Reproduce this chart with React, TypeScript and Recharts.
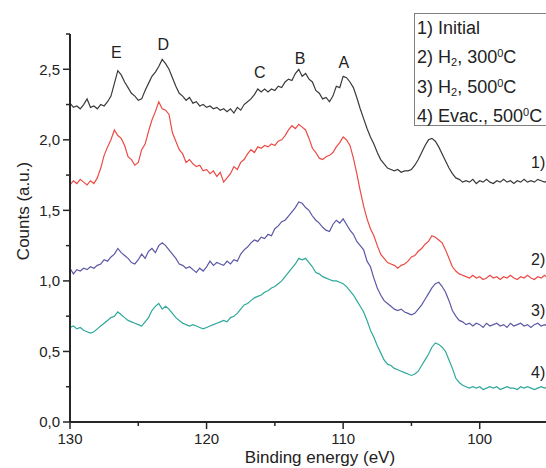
import React from 'react';
import { LineChart, Line, XAxis, YAxis, ReferenceDot } from 'recharts';

const energies = [
  130, 129.75, 129.5, 129.25, 129, 128.75, 128.5, 128.25, 128, 127.75, 127.5, 127.25,
  127, 126.75, 126.5, 126.25, 126, 125.75, 125.5, 125.25, 125, 124.75, 124.5, 124.25,
  124, 123.75, 123.5, 123.25, 123, 122.75, 122.5, 122.25, 122, 121.75, 121.5, 121.25,
  121, 120.75, 120.5, 120.25, 120, 119.75, 119.5, 119.25, 119, 118.75, 118.5, 118.25,
  118, 117.75, 117.5, 117.25, 117, 116.75, 116.5, 116.25, 116, 115.75, 115.5, 115.25,
  115, 114.75, 114.5, 114.25, 114, 113.75, 113.5, 113.25, 113, 112.75, 112.5, 112.25,
  112, 111.75, 111.5, 111.25, 111, 110.75, 110.5, 110.25, 110, 109.75, 109.5, 109.25,
  109, 108.75, 108.5, 108.25, 108, 107.75, 107.5, 107.25, 107, 106.75, 106.5, 106.25,
  106, 105.75, 105.5, 105.25, 105, 104.75, 104.5, 104.25, 104, 103.75, 103.5, 103.25,
  103, 102.75, 102.5, 102.25, 102, 101.75, 101.5, 101.25, 101, 100.75, 100.5, 100.25,
  100, 99.75, 99.5, 99.25, 99, 98.75, 98.5, 98.25, 98, 97.75, 97.5, 97.25,
  97, 96.75, 96.5, 96.25, 96, 95.75, 95.5, 95.25, 95,
];

const initial = [
  2.26, 2.23, 2.24, 2.22, 2.25, 2.29, 2.23, 2.24, 2.22, 2.25, 2.24, 2.27,
  2.31, 2.40, 2.49, 2.46, 2.41, 2.37, 2.33, 2.31, 2.28, 2.29, 2.35, 2.40,
  2.45, 2.48, 2.52, 2.57, 2.54, 2.50, 2.44, 2.38, 2.33, 2.31, 2.28, 2.30,
  2.26, 2.27, 2.24, 2.25, 2.23, 2.24, 2.22, 2.23, 2.21, 2.22, 2.20, 2.22,
  2.19, 2.23, 2.21, 2.25, 2.27, 2.29, 2.32, 2.36, 2.34, 2.36, 2.34, 2.36,
  2.35, 2.38, 2.37, 2.41, 2.43, 2.42, 2.47, 2.50, 2.45, 2.47, 2.43, 2.41,
  2.35, 2.33, 2.29, 2.30, 2.27, 2.31, 2.38, 2.37, 2.45, 2.44, 2.41, 2.37,
  2.30, 2.22, 2.15, 2.08, 2.02, 1.97, 1.91, 1.86, 1.83, 1.80, 1.79, 1.78,
  1.79, 1.77, 1.78, 1.78, 1.79, 1.82, 1.86, 1.91, 1.96, 2.00, 2.01, 1.99,
  1.95, 1.90, 1.85, 1.80, 1.76, 1.73, 1.72, 1.70, 1.71, 1.70, 1.72, 1.69,
  1.71, 1.70, 1.72, 1.70, 1.69, 1.71, 1.70, 1.72, 1.70, 1.71, 1.69, 1.71,
  1.70, 1.72, 1.70, 1.71, 1.70, 1.72, 1.71, 1.70, 1.71,
];

const h2300 = [
  1.68, 1.71, 1.69, 1.72, 1.70, 1.68, 1.71, 1.69, 1.73, 1.80, 1.89, 1.95,
  2.00, 2.07, 2.03, 2.01, 1.96, 1.88, 1.86, 1.82, 1.84, 1.93, 1.97, 2.06,
  2.14, 2.20, 2.27, 2.22, 2.21, 2.18, 2.05, 1.99, 1.93, 1.90, 1.84, 1.86,
  1.83, 1.81, 1.82, 1.78, 1.79, 1.76, 1.78, 1.74, 1.77, 1.70, 1.73, 1.76,
  1.81, 1.79, 1.84, 1.86, 1.90, 1.93, 1.91, 1.95, 1.94, 1.96, 1.95, 1.97,
  1.96, 1.99, 2.00, 2.03, 2.07, 2.10, 2.08, 2.11, 2.09, 2.07, 2.01, 1.94,
  1.91, 1.87, 1.86, 1.88, 1.89, 1.91, 1.95, 1.98, 2.02, 2.00, 1.96, 1.87,
  1.76, 1.64, 1.53, 1.44, 1.37, 1.32, 1.25, 1.19, 1.16, 1.13, 1.12, 1.11,
  1.09, 1.11, 1.12, 1.14, 1.17, 1.18, 1.21, 1.23, 1.26, 1.28, 1.32, 1.31,
  1.29, 1.27, 1.22, 1.16, 1.10, 1.07, 1.05, 1.04, 1.03, 1.02, 1.04, 1.02,
  1.03, 1.01, 1.02, 1.04, 1.02, 1.03, 1.01, 1.03, 1.02, 1.04, 1.02, 1.01,
  1.03, 1.02, 1.04, 1.02, 1.01, 1.03, 1.02, 1.04, 1.02,
];

const h2500 = [
  1.09, 1.05, 1.08, 1.07, 1.09, 1.08, 1.10, 1.09, 1.11, 1.12, 1.15, 1.14,
  1.17, 1.19, 1.23, 1.20, 1.18, 1.16, 1.13, 1.12, 1.15, 1.19, 1.16, 1.21,
  1.23, 1.20, 1.25, 1.27, 1.25, 1.22, 1.19, 1.16, 1.12, 1.11, 1.09, 1.10,
  1.08, 1.06, 1.09, 1.07, 1.10, 1.14, 1.11, 1.13, 1.12, 1.11, 1.14, 1.12,
  1.15, 1.14, 1.19, 1.22, 1.24, 1.27, 1.29, 1.28, 1.31, 1.30, 1.33, 1.32,
  1.37, 1.39, 1.42, 1.43, 1.46, 1.49, 1.52, 1.56, 1.55, 1.52, 1.50, 1.46,
  1.43, 1.41, 1.38, 1.36, 1.35, 1.40, 1.43, 1.41, 1.44, 1.40, 1.36, 1.33,
  1.28, 1.25, 1.22, 1.14, 1.10, 1.02, 0.95, 0.90, 0.86, 0.84, 0.82, 0.80,
  0.79, 0.80, 0.78, 0.77, 0.76, 0.77, 0.80, 0.83, 0.87, 0.91, 0.95, 0.98,
  0.99, 0.96, 0.92, 0.86, 0.79, 0.75, 0.72, 0.71, 0.69, 0.70, 0.68, 0.70,
  0.69, 0.67, 0.70, 0.68, 0.69, 0.70, 0.68, 0.69, 0.67, 0.70, 0.68, 0.69,
  0.70, 0.68, 0.69, 0.67, 0.69, 0.70, 0.68, 0.69, 0.68,
];

const evac500 = [
  0.67, 0.68, 0.66, 0.67, 0.65, 0.64, 0.63, 0.64, 0.66, 0.68, 0.70, 0.72,
  0.74, 0.75, 0.78, 0.76, 0.74, 0.72, 0.71, 0.70, 0.69, 0.68, 0.71, 0.74,
  0.79, 0.82, 0.84, 0.80, 0.82, 0.80, 0.77, 0.74, 0.72, 0.70, 0.69, 0.68,
  0.69, 0.68, 0.67, 0.66, 0.67, 0.68, 0.69, 0.70, 0.71, 0.72, 0.71, 0.74,
  0.75, 0.77, 0.80, 0.83, 0.84, 0.86, 0.88, 0.89, 0.90, 0.92, 0.93, 0.95,
  0.96, 0.98, 1.00, 1.03, 1.06, 1.09, 1.12, 1.16, 1.15, 1.16, 1.13, 1.10,
  1.06, 1.05, 1.03, 1.02, 1.01, 1.00, 1.00, 0.99, 0.98, 0.96, 0.93, 0.90,
  0.86, 0.82, 0.78, 0.72, 0.65, 0.60, 0.54, 0.49, 0.44, 0.41, 0.40, 0.38,
  0.37, 0.36, 0.35, 0.34, 0.33, 0.34, 0.36, 0.40, 0.44, 0.48, 0.53, 0.56,
  0.55, 0.53, 0.50, 0.44, 0.38, 0.31, 0.28, 0.26, 0.25, 0.24, 0.25, 0.24,
  0.25, 0.23, 0.24, 0.25, 0.24, 0.25, 0.23, 0.24, 0.25, 0.24, 0.24, 0.23,
  0.25, 0.24, 0.25, 0.24, 0.23, 0.24, 0.25, 0.24, 0.25,
];

const xTicks = [95, 100, 105, 110, 115, 120, 125, 130];
const yTicks = [0, 0.25, 0.5, 0.75, 1, 1.25, 1.5, 1.75, 2, 2.25, 2.5, 2.75];

const peakNames = ['E', 'D', 'C', 'B', 'A'];
const peakX = [126.6, 123.17, 116.1, 113.15, 109.95];
const peakY = [2.62, 2.676, 2.48, 2.58, 2.546];

const curveTags = ['1)', '2)', '3)', '4)'];
const curveTagY = [1.84, 1.15, 0.79, 0.35];
const curveTagX = 95.72;

const seriesKeys = ['s1', 's2', 's3', 's4'];
const seriesColors = ['#3a3a3a', '#ec4a44', '#5b58a6', '#2ea89b'];

const data = energies.map((e, i) => ({
  e,
  s1: initial[i],
  s2: h2300[i],
  s3: h2500[i],
  s4: evac500[i],
}));

const FONT = '"Liberation Sans", Arial, sans-serif';
const AXIS = '#262626';

const XTick = (props: any) => {
  const { x, y, payload } = props;
  const major = payload.value % 10 === 0;
  return (
    <g>
      <line x1={x} y1={y} x2={x} y2={y + (major ? 7 : 4)} stroke={AXIS} strokeWidth={1.5} />
      {major && (
        <text x={x} y={y + 22} textAnchor="middle" fontSize={15} fontFamily={FONT} fill="#222">
          {payload.value}
        </text>
      )}
    </g>
  );
};

const YTick = (props: any) => {
  const { x, y, payload } = props;
  const v = payload.value;
  const major = Math.abs(v * 2 - Math.round(v * 2)) < 1e-6;
  return (
    <g>
      <line x1={x - (major ? 7 : 4)} y1={y} x2={x} y2={y} stroke={AXIS} strokeWidth={1.5} />
      {major && (
        <text x={x - 10} y={y} dy="0.35em" textAnchor="end" fontSize={15} fontFamily={FONT} fill="#222">
          {v.toFixed(1).replace('.', ',')}
        </text>
      )}
    </g>
  );
};

const legendRows = [
  ['1) Initial', '', ''],
  ['2) H', '2', ', 300'],
  ['3) H', '2', ', 500'],
  ['4) Evac., 500', '', ''],
];

export default function App() {
  return (
    <div
      style={{
        position: 'fixed',
        left: 8,
        top: 8,
        width: 538,
        height: 460,
        overflow: 'hidden',
        background: '#fff',
      }}
    >
      <LineChart
        width={560}
        height={460}
        data={data}
        margin={{ top: 26, right: 20, bottom: 0, left: 0 }}
      >
        <XAxis
          dataKey="e"
          type="number"
          domain={[95, 130]}
          reversed
          allowDataOverflow
          ticks={xTicks}
          interval={0}
          tickLine={false}
          tickSize={0}
          tickMargin={0}
          tick={<XTick />}
          height={46}
          axisLine={{ stroke: AXIS, strokeWidth: 2 }}
          label={{
            content: () => (
              <text x={312} y={455} textAnchor="middle" fontSize={17} fontFamily={FONT} fill="#222">
                Binding energy (eV)
              </text>
            ),
          }}
        />
        <YAxis
          type="number"
          domain={[0, 2.75]}
          allowDataOverflow
          ticks={yTicks}
          interval={0}
          tickLine={false}
          tickSize={0}
          tickMargin={0}
          tick={<YTick />}
          width={62}
          axisLine={{ stroke: AXIS, strokeWidth: 2 }}
          label={{
            content: () => (
              <text
                x={15}
                y={203}
                transform="rotate(-90 15 203)"
                textAnchor="middle"
                dy="0.35em"
                fontSize={17}
                fontFamily={FONT}
                fill="#222"
              >
                Counts (a.u.)
              </text>
            ),
          }}
        />
        {seriesKeys.map((k, i) => (
          <Line
            key={k}
            dataKey={k}
            type="linear"
            stroke={seriesColors[i]}
            strokeWidth={1.2}
            dot={false}
            isAnimationActive={false}
          />
        ))}
        {peakNames.map((n, i) => (
          <ReferenceDot
            key={n}
            x={peakX[i]}
            y={peakY[i]}
            r={0}
            ifOverflow="visible"
            label={{ value: n, position: 'center', fontSize: 16, fontFamily: FONT, fill: '#222' }}
          />
        ))}
        {curveTags.map((t, i) => (
          <ReferenceDot
            key={t}
            x={curveTagX}
            y={curveTagY[i]}
            r={0}
            ifOverflow="visible"
            label={{ value: t, position: 'center', fontSize: 16, fontFamily: FONT, fill: '#222' }}
          />
        ))}
      </LineChart>
      <div
        style={{
          position: 'absolute',
          left: 406,
          top: 5,
          width: 160,
          height: 113,
          border: '1px solid #808080',
          background: '#fff',
          fontFamily: FONT,
          fontSize: 18,
          lineHeight: '29.3px',
          color: '#222',
          paddingLeft: 2,
          boxSizing: 'border-box',
          whiteSpace: 'nowrap',
        }}
      >
        {legendRows.map((r, i) => (
          <div key={i}>
            {r[0]}
            {r[1] && <sub style={{ fontSize: 11, verticalAlign: '-3px', lineHeight: 0 }}>{r[1]}</sub>}
            {r[2]}
            {i > 0 && (
              <>
                <sup style={{ fontSize: 11, verticalAlign: '6px', lineHeight: 0 }}>0</sup>C
              </>
            )}
          </div>
        ))}
      </div>
    </div>
  );
}
